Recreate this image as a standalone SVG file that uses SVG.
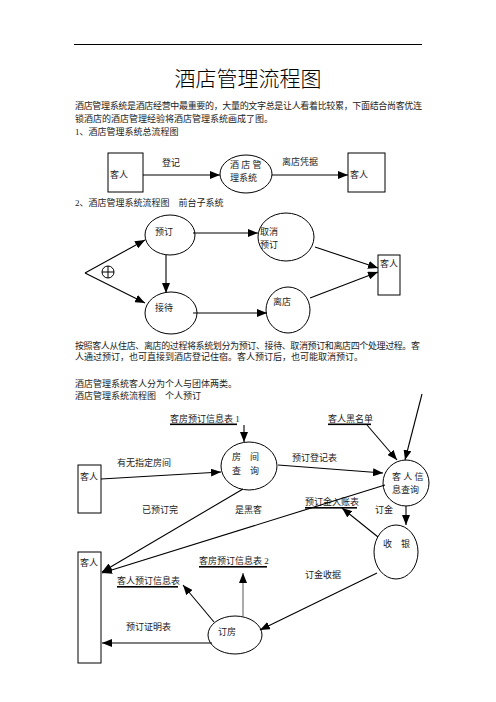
<svg xmlns="http://www.w3.org/2000/svg" width="496" height="702" viewBox="0 0 496 702">
<defs>
<style>
text{font-family:"Liberation Serif","Noto Sans CJK SC",serif;font-size:9px;fill:#222}
.t{font-size:21px;font-weight:300;fill:#000}
.n{fill:none;stroke:#000;stroke-width:1}
.c{fill:none;stroke:#000;stroke-width:1.1}
.g{stroke:#666}
.u{fill:#000}
</style>
<marker id="ah" markerWidth="10" markerHeight="8" refX="10" refY="4" orient="auto" markerUnits="userSpaceOnUse"><path d="M0,0 L10,4 L0,8 z" fill="#000"/></marker>
</defs>
<rect width="496" height="702" fill="#fff"/>
<line x1="74" y1="44.5" x2="422" y2="44.5" stroke="#000" stroke-width="1"/>
<text class="t" x="248" y="86" text-anchor="middle">酒店管理流程图</text>
<text x="75" y="108.5" textLength="347" lengthAdjust="spacing">酒店管理系统是酒店经营中最重要的，大量的文字总是让人看着比较累，下面结合尚客优连</text>
<text x="75" y="121.5">锁酒店的酒店管理经验将酒店管理系统画成了图。</text>
<text x="75" y="134.5">1、酒店管理系统总流程图</text>
<text x="75" y="205.5">2、酒店管理系统流程图　前台子系统</text>
<text x="75" y="348.5" textLength="345" lengthAdjust="spacing">按照客人从住店、离店的过程将系统划分为预订、接待、取消预订和离店四个处理过程。客</text>
<text x="75" y="360">人通过预订，也可直接到酒店登记住宿。客人预订后，也可能取消预订。</text>
<text x="75" y="386.5">酒店管理系统客人分为个人与团体两类。</text>
<text x="75" y="398.5">酒店管理系统流程图　个人预订</text>

<!-- Diagram 1 -->
<g id="d1-guest-left"><rect class="n" x="108" y="153" width="35" height="39"/><text x="110" y="178">客人</text></g>
<g id="d1-system"><ellipse class="n" cx="246" cy="174" rx="26" ry="19"/><text x="230" y="168">酒 店 管</text><text x="230" y="181">理系统</text></g>
<g id="d1-guest-right"><rect class="n" x="348" y="153" width="37" height="39"/><text x="350" y="178">客人</text></g>

<!-- Diagram 2 -->
<g id="d2-book"><ellipse class="n" cx="170" cy="235" rx="25" ry="20"/><text x="155" y="235">预订</text></g>
<g id="d2-cancel"><ellipse class="n" cx="286" cy="237" rx="28" ry="24"/><text x="260" y="235">取消</text><text x="260" y="248">预订</text></g>
<g id="d2-reception"><ellipse class="n" cx="171" cy="313" rx="26" ry="21"/><text x="155" y="311">接待</text></g>
<g id="d2-leave"><ellipse class="n" cx="288" cy="310" rx="22" ry="23"/><text x="273" y="305">离店</text></g>
<g id="d2-guest"><rect class="n" x="378" y="255" width="22" height="40"/><text x="380" y="267">客人</text></g>
<g id="d2-or"><circle class="n" cx="108" cy="272" r="6"/><line class="n" x1="102" y1="272" x2="114" y2="272"/><line class="n" x1="108" y1="266" x2="108" y2="278"/></g>

<!-- Diagram 3 -->
<g id="d3-store1"><text x="170" y="422">客房预订信息表 1</text><rect class="u" x="170" y="423.5" width="67" height="1.6"/></g>
<g id="d3-blacklist"><text x="328" y="422">客人黑名单</text><rect class="u" x="328" y="423.5" width="43" height="1.6"/></g>
<g id="d3-room-query"><ellipse class="n" cx="249" cy="466" rx="28" ry="24"/><text x="232" y="460">房　间</text><text x="232" y="474">查　询</text></g>
<g id="d3-guest-top"><rect class="n" x="78" y="465" width="23" height="48"/><text x="80" y="480">客人</text></g>
<g id="d3-guest-query"><ellipse class="n" cx="406" cy="483" rx="23" ry="23"/><text x="392" y="480">客 人 信</text><text x="392" y="493">息查询</text></g>
<g id="d3-store-deposit"><text x="305" y="505">预订金入账表</text><rect class="u" x="305" y="507" width="52" height="1.6"/></g>
<g id="d3-cashier"><ellipse class="n" cx="396" cy="552" rx="22" ry="27"/><text x="383" y="547">收　银</text></g>
<g id="d3-guest-bottom"><rect class="n" x="78" y="552" width="23" height="111"/><text x="80" y="566">客人</text></g>
<g id="d3-store2"><text x="199" y="564">客房预订信息表 2</text><rect class="u" x="199" y="566" width="68" height="1.6"/></g>
<g id="d3-store-guest"><text x="117" y="584">客人预订信息表</text><rect class="u" x="117" y="586" width="61" height="1.6"/></g>
<g id="d3-booking"><ellipse class="n" cx="235" cy="635" rx="27" ry="19"/><text x="218" y="635">订房</text></g>

<g id="labels">
<text x="162" y="166">登记</text>
<text x="282" y="165">离店凭据</text>
<text x="117" y="466">有无指定房间</text>
<text x="292" y="461">预订登记表</text>
<text x="142" y="513">已预订完</text>
<text x="235" y="513">是黑客</text>
<text x="375" y="513">订金</text>
<text x="305" y="578">订金收据</text>
<text x="126" y="630">预订证明表</text>
</g>

<g id="connectors">
<line class="c" x1="143" y1="175" x2="220" y2="175" marker-end="url(#ah)"/>
<line class="c" x1="272" y1="175" x2="348" y2="175" marker-end="url(#ah)"/>
<line class="c" x1="193" y1="233" x2="258" y2="233" marker-end="url(#ah)"/>
<line class="c" x1="166" y1="255" x2="166" y2="293" marker-end="url(#ah)"/>
<line class="c" x1="193" y1="313" x2="267" y2="313" marker-end="url(#ah)"/>
<line class="c" x1="315" y1="247" x2="378" y2="268" marker-end="url(#ah)"/>
<line class="c" x1="310" y1="298" x2="378" y2="272" marker-end="url(#ah)"/>
<line class="c" x1="85" y1="273" x2="145" y2="240" marker-end="url(#ah)"/>
<line class="c" x1="85" y1="273" x2="145" y2="303" marker-end="url(#ah)"/>
<line class="c" x1="244" y1="425" x2="244" y2="442" marker-end="url(#ah)"/>
<line class="c" x1="367" y1="425" x2="397" y2="460" marker-end="url(#ah)"/>
<line class="c" x1="422" y1="394" x2="405" y2="460" marker-end="url(#ah)"/>
<line class="c" x1="101" y1="479" x2="221" y2="472" marker-end="url(#ah)"/>
<line class="c" x1="278" y1="465" x2="383" y2="473" marker-end="url(#ah)"/>
<line class="c" x1="243" y1="489" x2="102" y2="572" marker-end="url(#ah)"/>
<line class="c" x1="385" y1="485" x2="102" y2="573" marker-end="url(#ah)"/>
<line class="c" x1="406" y1="506" x2="406" y2="525" marker-end="url(#ah)"/>
<line class="c" x1="378" y1="537" x2="342" y2="508" marker-end="url(#ah)"/>
<line class="c g" x1="243" y1="616" x2="243" y2="573" marker-end="url(#ah)"/>
<line class="c" x1="214" y1="622" x2="183" y2="585" marker-end="url(#ah)"/>
<line class="c" x1="377" y1="573" x2="260" y2="630" marker-end="url(#ah)"/>
<line class="c" x1="212" y1="643" x2="102" y2="643" marker-end="url(#ah)"/>
</g>
</svg>
